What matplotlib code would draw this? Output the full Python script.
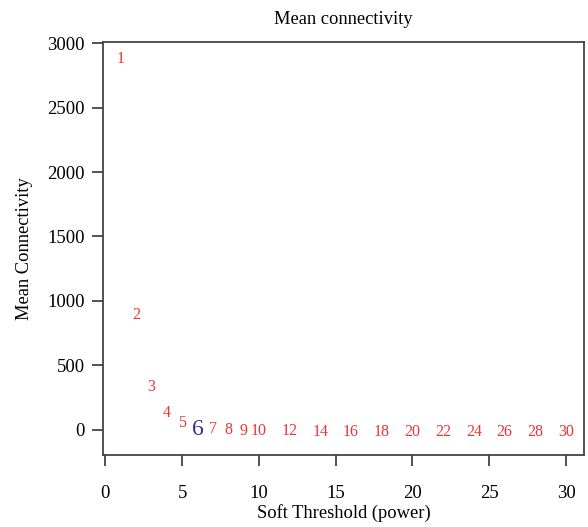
import matplotlib
matplotlib.use("Agg")
import matplotlib.pyplot as plt

powers = [1, 2, 3, 4, 5, 6, 7, 8, 9, 10, 12, 14, 16, 18, 20, 22, 24, 26, 28, 30]
mean_k = [2890, 905, 350, 145, 70, 20, 20, 12, 8, 5, 2, 1, 0.6, 0.4, 0.3, 0.2, 0.15, 0.1, 0.08, 0.06]
chosen = 6

plt.rcParams['font.family'] = ['Liberation Serif', 'DejaVu Serif']

fig = plt.figure(figsize=(5.88, 5.27), dpi=100)
ax = fig.add_axes([0.175, 0.137, 0.818, 0.783])
ax.set_xlim(-0.16, 31.16)
ax.set_ylim(-194, 3008)

for p, k in zip(powers, mean_k):
    if p == chosen:
        ax.text(p, k - 15, str(p), color='#33338f', fontsize=17, ha='center', va='center')
    else:
        ax.text(p, k - 15, str(p), color='#ee3333', fontsize=11.5, ha='center', va='center')

ax.set_xticks([0, 5, 10, 15, 20, 25, 30])
ax.set_yticks([0, 500, 1000, 1500, 2000, 2500, 3000])
ax.tick_params(axis='both', labelsize=13.5, length=8, width=1.3, color='#444444', direction='out')
ax.tick_params(axis='x', pad=14)
ax.tick_params(axis='y', pad=5)
for s in ax.spines.values():
    s.set_color('#444444')
    s.set_linewidth(1.3)

ax.set_xlabel('Soft Threshold (power)', fontsize=13.3, labelpad=1)
ax.set_ylabel('Mean Connectivity', fontsize=13.3, labelpad=10)
ax.set_title('Mean connectivity', fontsize=13.3, pad=13)

fig.savefig('out.png', dpi=100)
